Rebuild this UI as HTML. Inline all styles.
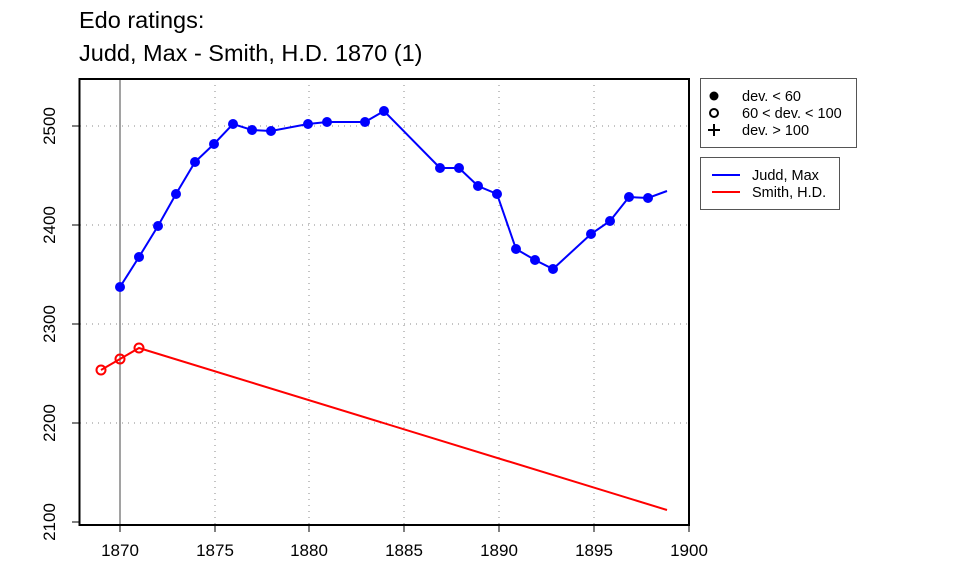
<!DOCTYPE html>
<html><head><meta charset="utf-8"><style>body{margin:0;background:#fff}svg{display:block}</style></head>
<body>
<svg width="960" height="576" viewBox="0 0 960 576" xmlns="http://www.w3.org/2000/svg" font-family="Liberation Sans, sans-serif">
<rect width="960" height="576" fill="#fff"/>
<text x="79" y="28" font-size="23.5">Edo ratings:</text>
<text x="79" y="61" font-size="23.5">Judd, Max - Smith, H.D. 1870 (1)</text>
<g stroke="#888" stroke-width="1" stroke-dasharray="1,5">
<line x1="80" y1="126" x2="689" y2="126"/><line x1="80" y1="225" x2="689" y2="225"/>
<line x1="80" y1="324" x2="689" y2="324"/><line x1="80" y1="423" x2="689" y2="423"/>
<line x1="215" y1="79" x2="215" y2="525"/><line x1="309" y1="79" x2="309" y2="525"/>
<line x1="404" y1="79" x2="404" y2="525"/><line x1="499" y1="79" x2="499" y2="525"/>
<line x1="594" y1="79" x2="594" y2="525"/>
</g>
<line x1="120" y1="79" x2="120" y2="525" stroke="#444" stroke-width="1"/>
<rect x="79.5" y="79" width="609.5" height="446" fill="none" stroke="#000" stroke-width="2"/>
<g stroke="#000" stroke-width="1">
<line x1="120" y1="525" x2="120" y2="532"/><line x1="215" y1="525" x2="215" y2="532"/>
<line x1="309" y1="525" x2="309" y2="532"/><line x1="404" y1="525" x2="404" y2="532"/>
<line x1="499" y1="525" x2="499" y2="532"/><line x1="594" y1="525" x2="594" y2="532"/>
<line x1="689" y1="525" x2="689" y2="532"/>
<line x1="72" y1="126" x2="79" y2="126"/><line x1="72" y1="225" x2="79" y2="225"/>
<line x1="72" y1="324" x2="79" y2="324"/><line x1="72" y1="423" x2="79" y2="423"/>
<line x1="72" y1="522" x2="79" y2="522"/>
</g>
<g font-size="17" text-anchor="middle">
<text x="120" y="556">1870</text><text x="215" y="556">1875</text><text x="309" y="556">1880</text>
<text x="404" y="556">1885</text><text x="499" y="556">1890</text><text x="594" y="556">1895</text>
<text x="689" y="556">1900</text>
<text transform="translate(55,126) rotate(-90)">2500</text>
<text transform="translate(55,225) rotate(-90)">2400</text>
<text transform="translate(55,324) rotate(-90)">2300</text>
<text transform="translate(55,423) rotate(-90)">2200</text>
<text transform="translate(55,522) rotate(-90)">2100</text>
</g>
<polyline fill="none" stroke="#00f" stroke-width="2" points="120,287 139,257 158,226 176,194 195,162 214,144 233,124 252,130 271,131 308,124 327,122 365,122 384,111 440,168 459,168 478,186 497,194 516,249 535,260 553,269 591,234 610,221 629,197 648,198 667,191"/>
<g fill="#00f">
<circle cx="120" cy="287" r="5"/><circle cx="139" cy="257" r="5"/><circle cx="158" cy="226" r="5"/><circle cx="176" cy="194" r="5"/><circle cx="195" cy="162" r="5"/><circle cx="214" cy="144" r="5"/><circle cx="233" cy="124" r="5"/><circle cx="252" cy="130" r="5"/><circle cx="271" cy="131" r="5"/><circle cx="308" cy="124" r="5"/><circle cx="327" cy="122" r="5"/><circle cx="365" cy="122" r="5"/><circle cx="384" cy="111" r="5"/><circle cx="440" cy="168" r="5"/><circle cx="459" cy="168" r="5"/><circle cx="478" cy="186" r="5"/><circle cx="497" cy="194" r="5"/><circle cx="516" cy="249" r="5"/><circle cx="535" cy="260" r="5"/><circle cx="553" cy="269" r="5"/><circle cx="591" cy="234" r="5"/><circle cx="610" cy="221" r="5"/><circle cx="629" cy="197" r="5"/><circle cx="648" cy="198" r="5"/>
</g>
<polyline fill="none" stroke="#f00" stroke-width="2" points="101,370 120,359 139,348 667,510"/>
<g fill="none" stroke="#f00" stroke-width="2">
<circle cx="101" cy="370" r="4.5"/><circle cx="120" cy="359" r="4.5"/><circle cx="139" cy="348" r="4.5"/>
</g>
<rect x="700.5" y="78.5" width="156" height="69" fill="#fff" stroke="#555"/>
<circle cx="714" cy="96" r="4.5" fill="#000"/>
<circle cx="714" cy="113" r="4" fill="none" stroke="#000" stroke-width="2"/>
<path d="M714 124v12M708 130h12" stroke="#000" stroke-width="2"/>
<g font-size="14.5"><text x="742" y="101">dev. &lt; 60</text><text x="742" y="118">60 &lt; dev. &lt; 100</text><text x="742" y="135">dev. &gt; 100</text></g>
<rect x="700.5" y="157.5" width="139" height="52" fill="#fff" stroke="#555"/>
<line x1="712" y1="175" x2="740" y2="175" stroke="#00f" stroke-width="2"/>
<line x1="712" y1="192" x2="740" y2="192" stroke="#f00" stroke-width="2"/>
<g font-size="14.5"><text x="752" y="180">Judd, Max</text><text x="752" y="197">Smith, H.D.</text></g>
</svg>
</body></html>
